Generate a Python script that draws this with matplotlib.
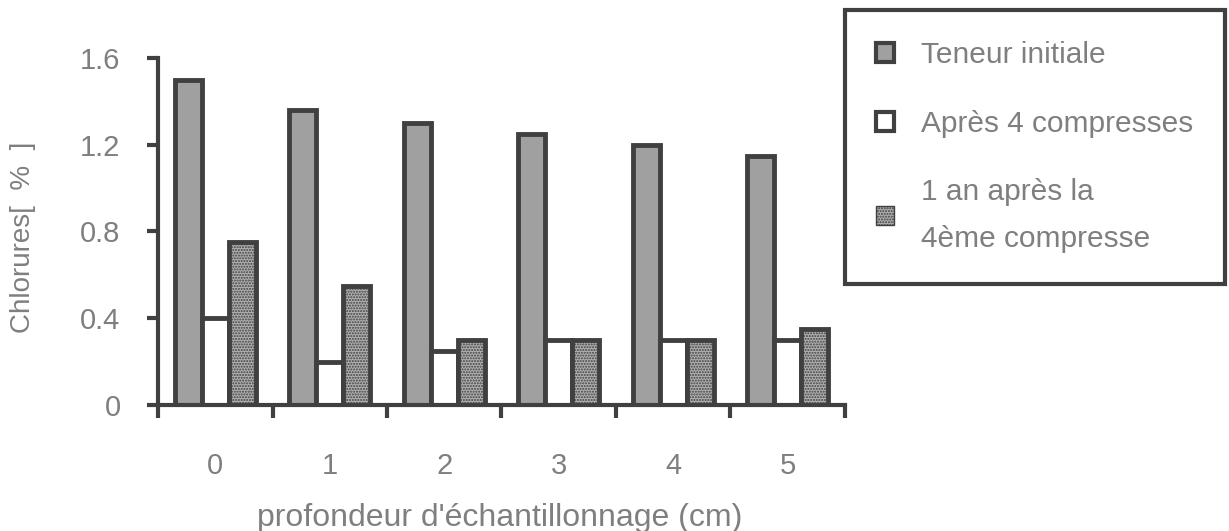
import numpy as np
import matplotlib
matplotlib.use('Agg')
from matplotlib import pyplot as plt
from matplotlib.patches import Patch

plt.rcParams['font.family'] = ['Liberation Sans', 'DejaVu Sans']
plt.rcParams['hatch.linewidth'] = 1.0
plt.rcParams['hatch.color'] = '#404040'

depths = ['0', '1', '2', '3', '4', '5']
initial = [1.5, 1.36, 1.3, 1.25, 1.2, 1.15]
after_4 = [0.4, 0.2, 0.25, 0.3, 0.3, 0.3]
one_year = [0.75, 0.55, 0.3, 0.3, 0.3, 0.35]
series_names = ['Teneur initiale', 'Après 4 compresses', '1 an après la\n4ème compresse']
yticks = [0, 0.4, 0.8, 1.2, 1.6]

dark = '#404040'
txt = '#7f7f7f'

fig = plt.figure(figsize=(12.29, 5.31), dpi=100)
ax = fig.add_axes([158 / 1229, 1 - 405 / 531, (845 - 158) / 1229, (405 - 58) / 531])

x = np.arange(len(depths))
w = 0.235
ax.bar(x - w, initial, w, color='#a0a0a0', edgecolor=dark, linewidth=3.5)
ax.bar(x, after_4, w, color='white', edgecolor=dark, linewidth=3.5)
ax.bar(x + w, one_year, w, color='#b0b0b0', edgecolor=dark, linewidth=3.5, hatch='......')

ax.set_xlim(-0.5, len(depths) - 0.5)
ax.set_ylim(0, 1.6)
ax.set_yticks(yticks)
ax.set_yticklabels(['0', '0.4', '0.8', '1.2', '1.6'])
ax.set_xticks(x)
ax.set_xticklabels(depths)
ax.set_xticks(np.arange(len(depths) + 1) - 0.5, minor=True)
ax.tick_params(axis='x', which='major', length=0, pad=34, labelsize=21, labelcolor=txt)
ax.tick_params(axis='x', which='minor', length=9, width=3, color=dark, direction='out')
ax.tick_params(axis='y', length=8, width=3, color=dark, pad=19, labelsize=21, labelcolor=txt)

for s in ['top', 'right']:
    ax.spines[s].set_visible(False)
for s in ['left', 'bottom']:
    ax.spines[s].set_color(dark)
    ax.spines[s].set_linewidth(3)

ax.set_xlabel("profondeur d'échantillonnage (cm)", fontsize=23, color=txt, va='center')
ax.xaxis.set_label_coords((500 - 158) / 687, (405 - 518) / 347)
ax.set_ylabel('Chlorures[  %  ]', fontsize=20, color=txt, va='center')
ax.yaxis.set_label_coords((23 - 158) / 687, (405 - 237) / 347)

handles = [
    Patch(facecolor='#a0a0a0', edgecolor=dark, linewidth=3),
    Patch(facecolor='white', edgecolor=dark, linewidth=3),
    Patch(facecolor='#b0b0b0', edgecolor=dark, linewidth=1, hatch='......'),
]
leg = fig.legend(handles, series_names, loc='upper left',
                 bbox_to_anchor=(845 / 1229, 1 - 282 / 531, 380 / 1229, 272 / 531),
                 mode='expand', fontsize=21.5, labelcolor=txt,
                 handlelength=0.6, handleheight=0.6, handletextpad=0.9,
                 labelspacing=1.35, borderpad=1.05, borderaxespad=0,
                 fancybox=False, frameon=True, framealpha=1)
leg.get_frame().set_edgecolor(dark)
leg.get_frame().set_linewidth(3)
leg.get_texts()[2].set_linespacing(1.85)

plt.savefig('out.png', dpi=100)
